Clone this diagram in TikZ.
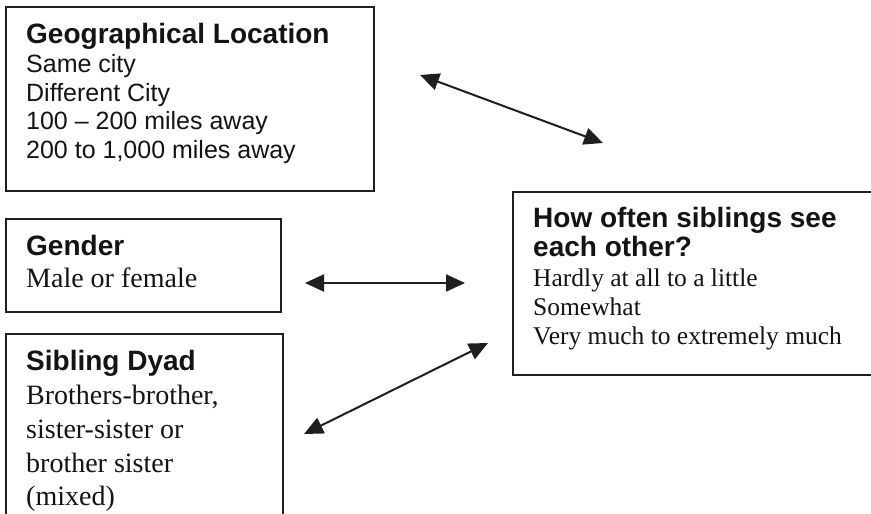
\documentclass[tikz,border=0pt]{standalone}
\usepackage{fontspec}
\setmainfont{Liberation Serif}
\setsansfont{Liberation Sans}
\usetikzlibrary{arrows.meta}
\begin{document}
\begin{tikzpicture}[x=1pt,y=-1pt,
  boxstyle/.style={draw=black!88, line width=1.5pt, rectangle, inner sep=0pt, anchor=north west},
  ttl/.style={font=\sffamily\bfseries\fontsize{28}{32}\selectfont, anchor=base west, inner sep=0pt, text=black!92},
  sansline/.style={font=\sffamily\fontsize{25}{29}\selectfont, anchor=base west, inner sep=0pt, text=black!92},
  serifline/.style={font=\rmfamily\fontsize{#1}{#1}\selectfont, anchor=base west, inner sep=0pt, text=black!92},
  biarrow/.style={line width=2pt, draw=black!88, {Triangle[length=19pt,width=17pt]}-{Triangle[length=19pt,width=17pt]}}]
\useasboundingbox (0,0) rectangle (871,514);
\clip (0,0) rectangle (871,514);
\fill[white] (0,0) rectangle (871,514);

% boxes
\node[boxstyle, minimum width=368pt, minimum height=184pt] (geo) at (5,6) {};
\node[boxstyle, minimum width=275pt, minimum height=93pt] (gen) at (5,218) {};
\node[boxstyle, minimum width=277pt, minimum height=200pt] (dyad) at (5,333) {};
\node[boxstyle, minimum width=380pt, minimum height=183pt] (freq) at (512,191) {};

% Geographical Location
\node[ttl] (geoT) at (26,43) {Geographical Location};
\node[sansline] (geoA) at (26,72.5) {Same city};
\node[sansline] (geoB) at (26,101) {Different City};
\node[sansline] (geoC) at (26,129.5) {100 – 200 miles away};
\node[sansline] (geoD) at (26,158) {200 to 1,000 miles away};

% Gender
\node[ttl] (genT) at (26,255) {Gender};
\node[serifline=28] (genA) at (26,287) {Male or female};

% Sibling Dyad
\node[ttl] (dyadT) at (26,370) {Sibling Dyad};
\node[serifline=28] (dyadA) at (26,404) {Brothers-brother,};
\node[serifline=28] (dyadB) at (26,438) {sister-sister or};
\node[serifline=28] (dyadC) at (26,472) {brother sister};
\node[serifline=28] (dyadD) at (26,505) {(mixed)};

% How often
\node[ttl] (freqT) at (533,227) {How often siblings see};
\node[ttl] (freqU) at (533,256) {each other?};
\node[serifline=25.5] (freqA) at (533,286) {Hardly at all to a little};
\node[serifline=25.5] (freqB) at (533,315) {Somewhat};
\node[serifline=25.5] (freqC) at (533,344) {Very much to extremely much};

% arrow ends
\coordinate (a1s) at (420,75);
\coordinate (a1e) at (603,143);
\coordinate (a2s) at (305,283);
\coordinate (a2e) at (465,283);
\coordinate (a3s) at (304,434);
\coordinate (a3e) at (488,343);

\draw[biarrow] (a1s) -- (a1e);
\draw[biarrow] (a2s) -- (a2e);
\draw[biarrow] (a3s) -- (a3e);
\end{tikzpicture}
\end{document}
